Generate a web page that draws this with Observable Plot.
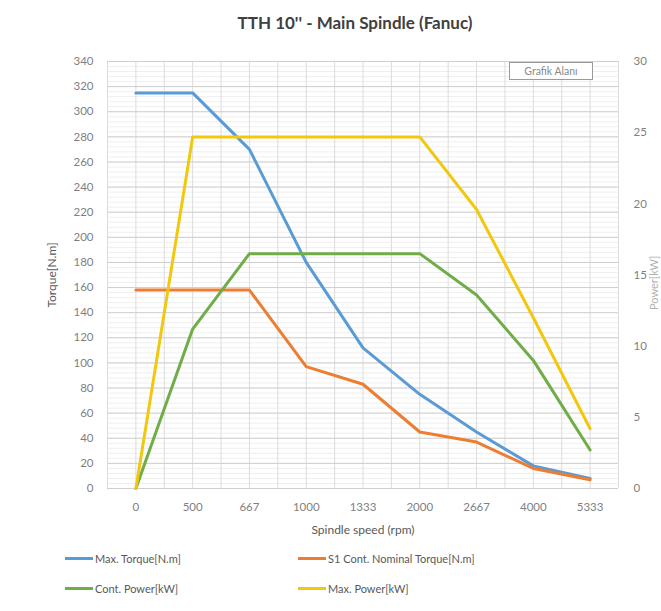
<!DOCTYPE html>
<html><head><meta charset="utf-8">
<script src="https://cdn.jsdelivr.net/npm/d3@7"></script>
<script src="https://cdn.jsdelivr.net/npm/@observablehq/plot@0.6"></script>
<style>
body{margin:0;background:#fff;font-family:Lato,"Open Sans",sans-serif;}
#wrap{position:relative;width:661px;height:611px;overflow:hidden;}
#title{position:absolute;left:0;width:710px;top:12px;text-align:center;font-size:17px;font-weight:bold;color:#404040;}
#chart{position:absolute;left:0;top:0;}
#badge{position:absolute;left:509px;top:62px;width:84px;height:18px;border:1px solid #9a9a9a;font-size:10.5px;color:#8a8a8a;text-align:center;line-height:16px;background:#fff;box-sizing:border-box;}
.leg{position:absolute;display:flex;align-items:center;font-size:11px;color:#595959;}
.leg span.sw{display:inline-block;width:28px;height:3px;margin-right:2px;}
#ylab2{position:absolute;left:647px;top:310px;transform:rotate(-90deg);transform-origin:left top;font-size:11px;color:#b0b0b0;white-space:nowrap;}
</style></head>
<body>
<div id="wrap">
<div id="chart"></div>
<div id="title">TTH 10'' - Main Spindle (Fanuc)</div>
<div id="badge">Grafik Alanı</div>
<div id="legend"></div>
</div>
<script>
const speeds = ["0","500","667","1000","1333","2000","2667","4000","5333"];
const maxTorque = [315,315,270,180,112,75,45,18,8];
const contTorque = [158,158,158,97,83,45,37,16,7];
const contPower = [0,11.2,16.5,16.5,16.5,16.5,13.6,9,2.7];
const maxPower = [0,24.7,24.7,24.7,24.7,24.7,19.6,12,4.2];
const torqueTicks = d3.range(0,341,20);
const powerTicks = [0,5,10,15,20,25,30];
const seriesNames = ["Max. Torque[N.m]","S1 Cont. Nominal Torque[N.m]","Cont. Power[kW]","Max. Power[kW]"];
const colors = ["#5b9bd5","#ed7d31","#70ad47","#f2c80f"];

const k = 340/30;
const series = [
  {name:seriesNames[0], vals:maxTorque, scale:1, color:colors[0]},
  {name:seriesNames[1], vals:contTorque, scale:1, color:colors[1]},
  {name:seriesNames[2], vals:contPower, scale:k, color:colors[2]},
  {name:seriesNames[3], vals:maxPower, scale:k, color:colors[3]}
];
const rows = series.flatMap(s => s.vals.map((v,i)=>({name:s.name, i, y:v*s.scale, color:s.color})));
const minor = d3.range(0,341,4);
const vlines = d3.range(-0.5,8.51,0.5);

const chart = Plot.plot({
  width:661, height:545,
  marginTop:61, marginBottom:57, marginLeft:107, marginRight:43,
  style:{fontFamily:"Lato, 'Open Sans', sans-serif", fontSize:"11.5px", color:"#7f7f7f", background:"transparent"},
  x:{domain:[-0.5,8.5]},
  y:{domain:[0,340]},
  marks:[
    Plot.ruleY(minor,{stroke:"#efefef",strokeWidth:1}),
    Plot.ruleX(vlines,{stroke:"#dcdcdc",strokeWidth:1}),
    Plot.ruleY(torqueTicks,{stroke:"#cfcfcf",strokeWidth:1}),
    Plot.axisY({ticks:torqueTicks, tickSize:0, tickPadding:14, label:null}),
    Plot.axisY({anchor:"right", ticks:powerTicks.map(p=>p*k), tickFormat:d=>String(Math.round(d/k)), tickSize:0, tickPadding:15, label:null}),
    Plot.axisX({ticks:d3.range(0,9), tickFormat:i=>speeds[i], tickSize:0, tickPadding:14, label:null}),
    Plot.text(["Torque[N.m]"],{frameAnchor:"left", textAnchor:"middle", dx:-55, rotate:-90, fontSize:12, fill:"#595959"}),
    Plot.text(["Spindle speed (rpm)"],{frameAnchor:"bottom", textAnchor:"middle", dy:45, fontSize:12, fill:"#595959"}),
    Plot.line(rows,{x:"i", y:"y", z:"name", stroke:"color", strokeWidth:3, strokeLinejoin:"round"})
  ]
});
document.getElementById("chart").appendChild(chart);

const leg = document.getElementById("legend");
const pos = [[65,552],[298,552],[65,582],[298,582]];
series.forEach((s,j)=>{
  const d = document.createElement("div");
  d.className="leg";
  d.style.left=pos[j][0]+"px"; d.style.top=pos[j][1]+"px";
  d.innerHTML = `<span class="sw" style="background:${s.color}"></span>${s.name}`;
  leg.appendChild(d);
});
const yl = document.createElement("div");
yl.id="ylab2"; yl.textContent="Power[kW]";
document.getElementById("wrap").appendChild(yl);
</script>
</body></html>
